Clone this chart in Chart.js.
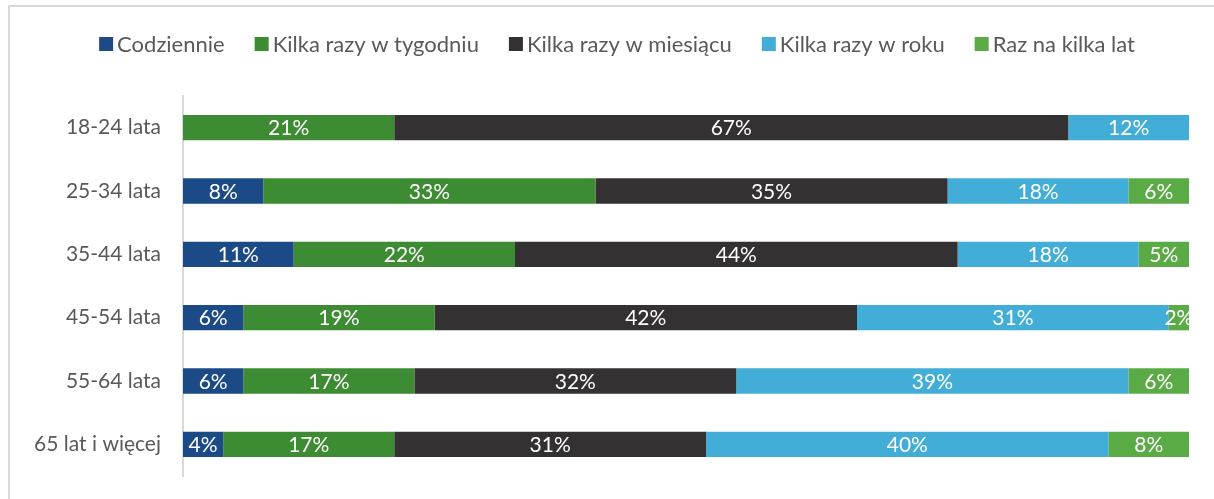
<!DOCTYPE html>
<html>
<head>
<meta charset="utf-8">
<script src="https://cdn.jsdelivr.net/npm/chart.js@4.4.1/dist/chart.umd.min.js"></script>
<style>
  html, body { margin:0; padding:0; background:#fff; }
  #wrap { position:relative; width:1214px; height:499px; overflow:hidden; }
  #frame { position:absolute; left:8px; top:5px; width:1300px; height:600px; border-top:2px solid #d9d9d9; border-left:2px solid #d9d9d9; box-sizing:border-box; }
  canvas { position:absolute; left:0; top:0; }
</style>
</head>
<body>
<div id="wrap">
  <div id="frame"></div>
  <canvas id="c" width="1214" height="499"></canvas>
</div>
<script>
const categories = ["18-24 lata", "25-34 lata", "35-44 lata", "45-54 lata", "55-64 lata", "65 lat i więcej"];
const seriesNames = ["Codziennie", "Kilka razy w tygodniu", "Kilka razy w miesiącu", "Kilka razy w roku", "Raz na kilka lat"];
const codziennie   = [0, 8, 11, 6, 6, 4];
const tygodniowo   = [21, 33, 22, 19, 17, 17];
const miesiecznie  = [67, 35, 44, 42, 32, 31];
const rocznie      = [12, 18, 18, 31, 39, 40];
const kilkaLat     = [0, 6, 5, 2, 6, 8];
const colors = ["#1c4a86", "#3d8b32", "#333132", "#42add7", "#5aaa46"];

const FONT = "Lato";
const TXT = "#595959";

const seriesValues = [codziennie, tygodniowo, miesiecznie, rocznie, kilkaLat];

const dataLabelPlugin = {
  id: 'dataLabels',
  afterDatasetsDraw(chart) {
    const ctx = chart.ctx;
    ctx.save();
    ctx.font = "21px " + FONT;
    ctx.fillStyle = "#ffffff";
    ctx.textAlign = "center";
    ctx.textBaseline = "middle";
    chart.data.datasets.forEach((ds, i) => {
      const meta = chart.getDatasetMeta(i);
      meta.data.forEach((el, j) => {
        const v = ds.data[j];
        if (!v) return;
        const cx = (el.x + el.base) / 2;
        ctx.fillText(v + "%", cx, el.y + 1);
      });
    });
    ctx.restore();
  }
};

const legendPlugin = {
  id: 'customLegend',
  afterDraw(chart) {
    const ctx = chart.ctx;
    ctx.save();
    ctx.font = "22px " + FONT;
    ctx.textBaseline = "middle";
    const box = 14, gapBox = 4, gapItem = 30;
    const items = chart.data.datasets.map(ds => ({ label: ds.label, color: ds.backgroundColor, w: ctx.measureText(ds.label).width }));
    let total = 0;
    items.forEach((it, i) => { total += box + gapBox + it.w + (i < items.length - 1 ? gapItem : 0); });
    let x = (chart.width - total) / 2 + 10;
    const y = 44;
    items.forEach(it => {
      ctx.fillStyle = it.color;
      ctx.fillRect(x, y - box / 2, box, box);
      x += box + gapBox;
      ctx.fillStyle = TXT;
      ctx.textAlign = "left";
      ctx.fillText(it.label, x, y + 1);
      x += it.w + gapItem;
    });
    ctx.restore();
  }
};

new Chart(document.getElementById('c'), {
  type: 'bar',
  data: {
    labels: categories,
    datasets: seriesNames.map((name, i) => ({
      label: name,
      data: seriesValues[i],
      backgroundColor: colors[i],
      borderWidth: 0,
      categoryPercentage: 1.0,
      barPercentage: 0.4
    }))
  },
  options: {
    indexAxis: 'y',
    responsive: false,
    animation: false,
    devicePixelRatio: 1,
    layout: { padding: { top: 96, right: 25, bottom: 23, left: 0 } },
    plugins: { legend: { display: false }, tooltip: { enabled: false } },
    scales: {
      x: { stacked: true, min: 0, max: 100, display: false },
      y: {
        stacked: true,
        grid: { display: false, drawTicks: false },
        border: { display: true, color: '#d9d9d9', width: 2 },
        ticks: { color: TXT, font: { family: FONT, size: 21 }, padding: 22 },
        afterFit(scale) { scale.width = 183; scale.paddingTop = 0; scale.paddingBottom = 0; }
      }
    }
  },
  plugins: [dataLabelPlugin, legendPlugin]
});
</script>
</body>
</html>
